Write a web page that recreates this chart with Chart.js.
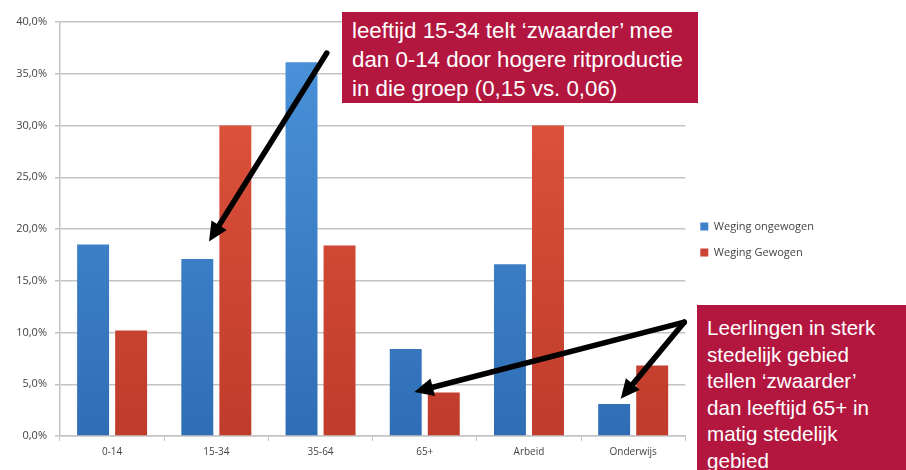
<!DOCTYPE html>
<html lang="nl">
<head>
<meta charset="utf-8">
<script src="https://cdn.jsdelivr.net/npm/chart.js@4/dist/chart.umd.min.js"></script>
<style>
  html, body { margin: 0; padding: 0; background: #fff; }
  #wrap { position: relative; width: 906px; height: 470px; overflow: hidden; }
  .note {
    position: absolute;
    background: #b3173f;
    color: #fff;
    font-family: 'Liberation Sans', Arial, sans-serif;
    box-sizing: border-box;
  }
  #note1 { left: 342px; top: 12px; width: 356px; height: 91px; padding: 4px 0 0 10px; font-size: 22.3px; line-height: 29px; }
  #note2 { left: 697px; top: 305px; width: 209px; height: 170px; padding: 10px 0 0 10px; font-size: 20.6px; line-height: 26.5px; }
</style>
</head>
<body>
<div id="wrap">
  <canvas id="chart" width="906" height="470"></canvas>
  <div class="note" id="note1">leeftijd 15-34 telt ‘zwaarder’ mee<br>dan 0-14 door hogere ritproductie<br>in die groep (0,15 vs. 0,06)</div>
  <div class="note" id="note2">Leerlingen in sterk<br>stedelijk gebied<br>tellen ‘zwaarder’<br>dan leeftijd 65+ in<br>matig stedelijk<br>gebied</div>
</div>
<script>
// Data (percent)
const CATEGORIES = ['0-14', '15-34', '35-64', '65+', 'Arbeid', 'Onderwijs'];
const ONGEWOGEN = [18.5, 17.1, 36.1, 8.4, 16.6, 3.1];
const GEWOGEN = [10.2, 30.0, 18.4, 4.2, 30.0, 6.8];
const Y_TICKS = [0, 5, 10, 15, 20, 25, 30, 35, 40];

// Arrows in data space: x = category index (fractional), y = percent
const ARROWS = [
  { from: [2.06, 37.0], to: [0.93, 18.8] },
  { from: [5.49, 11.0], to: [2.90, 4.25] },
  { from: [5.49, 11.0], to: [4.88, 3.6] },
];

const COLOR = {
  blueTop: '#4c94dc', blueBottom: '#2f6eb5',
  redTop: '#e4583f', redBottom: '#bf3b2b',
  grid: '#c4c4c4', text: '#444',
};

function verticalGradient(top, bottom) {
  return (ctx) => {
    const { chart } = ctx;
    const area = chart.chartArea;
    if (!area) return top;
    const g = chart.ctx.createLinearGradient(0, area.top, 0, area.bottom);
    g.addColorStop(0, top);
    g.addColorStop(1, bottom);
    return g;
  };
}

const arrowPlugin = {
  id: 'arrows',
  afterDatasetsDraw(chart) {
    const { ctx, scales: { x, y } } = chart;
    ctx.save();
    ctx.strokeStyle = '#000';
    ctx.fillStyle = '#000';
    ctx.lineWidth = 5.5;
    ctx.lineCap = 'round';
    for (const a of ARROWS) {
      const x1 = x.getPixelForValue(a.from[0]), y1 = y.getPixelForValue(a.from[1]);
      const x2 = x.getPixelForValue(a.to[0]), y2 = y.getPixelForValue(a.to[1]);
      const ang = Math.atan2(y2 - y1, x2 - x1);
      const head = 19, half = 9;
      const bx = x2 - head * Math.cos(ang), by = y2 - head * Math.sin(ang);
      ctx.beginPath();
      ctx.moveTo(x1, y1);
      ctx.lineTo(bx, by);
      ctx.stroke();
      ctx.beginPath();
      ctx.moveTo(x2, y2);
      ctx.lineTo(bx + half * Math.sin(ang), by - half * Math.cos(ang));
      ctx.lineTo(bx - half * Math.sin(ang), by + half * Math.cos(ang));
      ctx.closePath();
      ctx.fill();
    }
    ctx.restore();
  },
};

Chart.defaults.font.family = "'Open Sans', sans-serif";
Chart.defaults.font.size = 11;
Chart.defaults.color = COLOR.text;

new Chart(document.getElementById('chart'), {
  type: 'bar',
  data: {
    labels: CATEGORIES,
    datasets: [
      {
        label: 'Weging ongewogen',
        data: ONGEWOGEN,
        backgroundColor: verticalGradient(COLOR.blueTop, COLOR.blueBottom),
        categoryPercentage: 0.73,
        barPercentage: 0.84,
      },
      {
        label: 'Weging Gewogen',
        data: GEWOGEN,
        backgroundColor: verticalGradient(COLOR.redTop, COLOR.redBottom),
        categoryPercentage: 0.73,
        barPercentage: 0.84,
      },
    ],
  },
  options: {
    responsive: false,
    animation: false,
    events: [],
    layout: { padding: { top: 22, left: 0, right: 82, bottom: 0 } },
    plugins: {
      legend: {
        position: 'right',
        align: 'start',
        // empty title only used as a spacer to drop the items to mid-height
        title: { display: true, text: '', font: { size: 10 }, padding: { top: 172, bottom: 0 } },
        labels: {
          boxWidth: 8, boxHeight: 8, padding: 15,
          color: '#333', font: { size: 11 },
          generateLabels: (chart) => chart.data.datasets.map((ds, i) => ({
            text: ds.label,
            fillStyle: i === 0 ? '#3d80cc' : '#cc4433',
            strokeStyle: 'transparent',
            lineWidth: 0,
            datasetIndex: i,
          })),
        },
      },
      tooltip: { enabled: false },
    },
    scales: {
      x: {
        afterFit: (s) => { s.height = 34; },
        grid: { drawOnChartArea: false, color: COLOR.grid, tickLength: 5 },
        border: { color: COLOR.grid, width: 1.5 },
        ticks: { padding: 5, font: { size: 10 } },
      },
      y: {
        min: 0,
        max: 40,
        afterFit: (s) => { s.width = 60; },
        afterBuildTicks: (s) => { s.ticks = Y_TICKS.map((v) => ({ value: v })); },
        grid: { color: COLOR.grid, lineWidth: 1.5, tickLength: 5 },
        border: { color: COLOR.grid, width: 1.5 },
        ticks: {
          padding: 8,
          font: { size: 11 },
          callback: (v) => v.toFixed(1).replace('.', ',') + '%',
        },
      },
    },
  },
  plugins: [arrowPlugin],
});
</script>
</body>
</html>
